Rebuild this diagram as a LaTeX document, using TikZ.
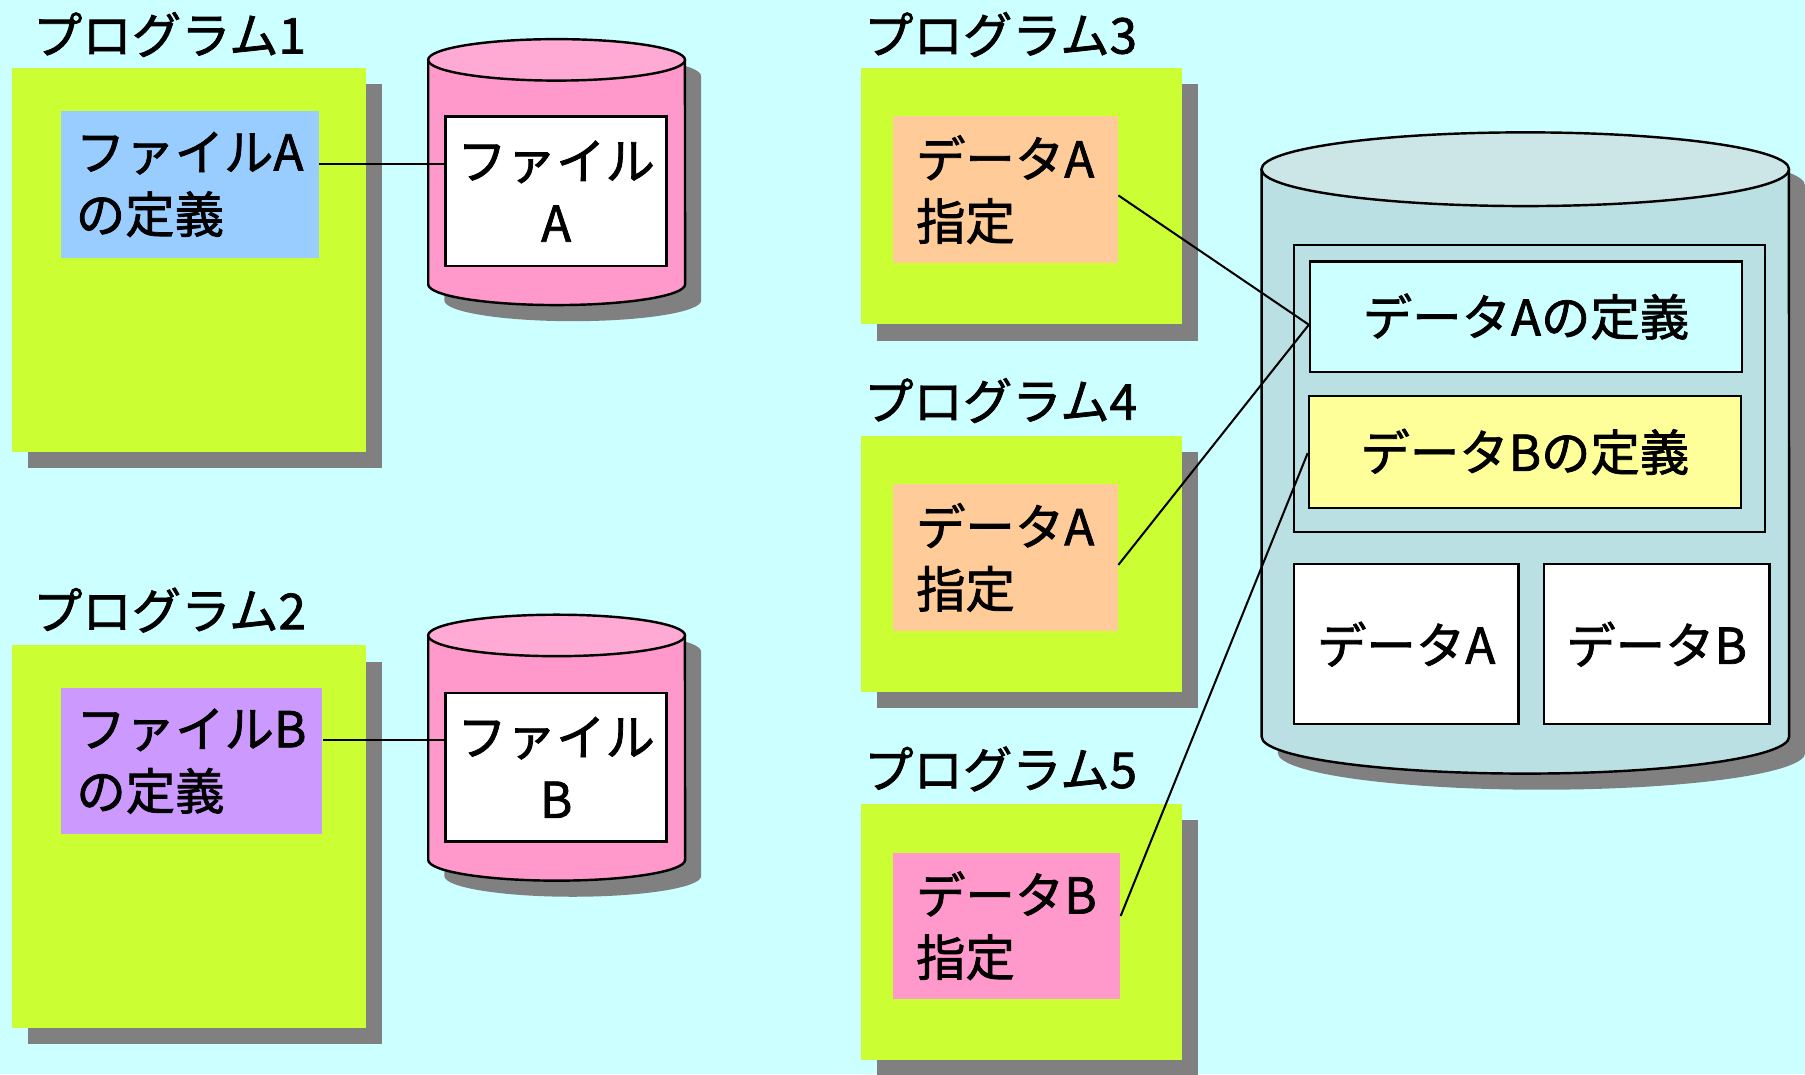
\documentclass[tikz,border=0pt]{standalone}
\usepackage{fontspec}
\setmainfont{Noto Sans CJK JP}[FakeBold=1.5]
\usetikzlibrary{calc,shadows}
\definecolor{bg}{HTML}{CCFFFF}
\definecolor{prog}{HTML}{CCFF33}
\definecolor{shadowgray}{HTML}{808080}
\definecolor{defblue}{HTML}{99CCFF}
\definecolor{defpurple}{HTML}{CC99FF}
\definecolor{spec}{HTML}{FFCC99}
\definecolor{specpink}{HTML}{FF99CC}
\definecolor{cylpink}{HTML}{FF99CC}
\definecolor{cylpinktop}{HTML}{FFAAD4}
\definecolor{dbbody}{HTML}{BBE0E3}
\definecolor{dbtop}{HTML}{CCE6E8}
\definecolor{defyellow}{HTML}{FFFF99}
\tikzset{
  txt/.style={font=\fontsize{12.2}{15.4}\selectfont},
  lbl/.style={txt, inner sep=0pt, anchor=west},
  progbox/.style={fill=prog, draw=none, anchor=north west,
    drop shadow={shadow xshift=0.14cm, shadow yshift=-0.14cm, fill=shadowgray, opacity=1}},
  tagbox/.style={txt, draw=none, anchor=north west, align=left, inner sep=0pt},
  framebox/.style={txt, draw=black, line width=0.6pt, anchor=north west, align=center, inner sep=0pt},
  conn/.style={draw=black, line width=0.5pt},
  cylline/.style={draw=black, line width=0.6pt},
}
\begin{document}
\begin{tikzpicture}[x=0.01cm, y=-0.01cm]
\path[use as bounding box, fill=bg] (0,0) rectangle (1568,933);
\clip (0,0) rectangle (1568,933);

% ---------- Program 1 ----------
\node[lbl] (lbl1) at (28,30) {プログラム1};
\node[progbox, minimum width=3.07cm, minimum height=3.34cm] (prog1) at (10,58) {};
\node[tagbox, fill=defblue, minimum width=2.24cm, minimum height=1.27cm] (defFA) at (52,96) {ファイルA\\の定義};

% cylinder A
\fill[shadowgray] (386,66) -- (386,261) arc[start angle=180, end angle=360, x radius=1.115cm, y radius=0.18cm]
  -- (609,66) arc[start angle=0, end angle=180, x radius=1.115cm, y radius=0.18cm] -- cycle;
\filldraw[fill=cylpink, cylline] (372,52) -- (372,247) arc[start angle=180, end angle=360, x radius=1.115cm, y radius=0.18cm] -- (595,52);
\filldraw[fill=cylpinktop, cylline] (483.5,52) ellipse[x radius=1.115cm, y radius=0.18cm];
\node[framebox, fill=white, minimum width=1.92cm, minimum height=1.30cm] (fileA) at (386,100) {ファイル\\A};

\coordinate (la) at ([yshift=0.175cm]defFA.east);
\draw[conn] (la) -- (la -| fileA.west);

% ---------- Program 2 ----------
\node[lbl] (lbl2) at (28,530) {プログラム2};
\node[progbox, minimum width=3.07cm, minimum height=3.32cm] (prog2) at (10,560) {};
\node[tagbox, fill=defpurple, minimum width=2.27cm, minimum height=1.27cm] (defFB) at (52,597) {ファイルB\\の定義};

% cylinder B
\fill[shadowgray] (386,566) -- (386,761) arc[start angle=180, end angle=360, x radius=1.115cm, y radius=0.18cm]
  -- (609,566) arc[start angle=0, end angle=180, x radius=1.115cm, y radius=0.18cm] -- cycle;
\filldraw[fill=cylpink, cylline] (372,552) -- (372,747) arc[start angle=180, end angle=360, x radius=1.115cm, y radius=0.18cm] -- (595,552);
\filldraw[fill=cylpinktop, cylline] (483.5,552) ellipse[x radius=1.115cm, y radius=0.18cm];
\node[framebox, fill=white, minimum width=1.92cm, minimum height=1.29cm] (fileB) at (386,601) {ファイル\\B};

\coordinate (lb) at ([yshift=0.185cm]defFB.east);
\draw[conn] (lb) -- (lb -| fileB.west);

% ---------- Programs 3-5 ----------
\node[lbl] (lbl3) at (750,30) {プログラム3};
\node[progbox, minimum width=2.79cm, minimum height=2.23cm] (prog3) at (747,58) {};
\node[tagbox, fill=spec, minimum width=1.95cm, minimum height=1.28cm] (spec3) at (775,100) {データA\\指定};

\node[lbl] (lbl4) at (750,348) {プログラム4};
\node[progbox, minimum width=2.79cm, minimum height=2.22cm] (prog4) at (747,378) {};
\node[tagbox, fill=spec, minimum width=1.95cm, minimum height=1.27cm] (spec4) at (775,420) {データA\\指定};

\node[lbl] (lbl5) at (750,668) {プログラム5};
\node[progbox, minimum width=2.79cm, minimum height=2.22cm] (prog5) at (747,698) {};
\node[tagbox, fill=specpink, minimum width=1.97cm, minimum height=1.27cm] (spec5) at (775,740) {データB\\指定};

% ---------- Database cylinder ----------
\fill[shadowgray] (1110,161) -- (1110,654) arc[start angle=180, end angle=360, x radius=2.29cm, y radius=0.32cm]
  -- (1568,161) arc[start angle=0, end angle=180, x radius=2.29cm, y radius=0.32cm] -- cycle;
\filldraw[fill=dbbody, cylline] (1096,147) -- (1096,640) arc[start angle=180, end angle=360, x radius=2.29cm, y radius=0.32cm] -- (1554,147);
\filldraw[fill=dbtop, cylline] (1325,147) ellipse[x radius=2.29cm, y radius=0.32cm];

\node[framebox, fill=dbbody, minimum width=4.09cm, minimum height=2.49cm] (frame) at (1123,212) {};
\node[framebox, fill=bg, minimum width=3.75cm, minimum height=0.96cm] (defA) at (1137,226) {データAの定義};
\node[framebox, fill=defyellow, minimum width=3.75cm, minimum height=0.97cm] (defB) at (1136,343) {データBの定義};
\node[framebox, fill=white, minimum width=1.95cm, minimum height=1.39cm] (dataA) at (1123,489) {データA};
\node[framebox, fill=white, minimum width=1.96cm, minimum height=1.39cm] (dataB) at (1340,489) {データB};

% ---------- connectors ----------
\draw[conn] ([yshift=-0.05cm]spec3.east) -- ([yshift=-0.07cm]defA.west);
\draw[conn] ([yshift=-0.065cm]spec4.east) -- ([yshift=-0.07cm]defA.west);
\draw[conn] ([yshift=0.085cm]spec5.east) -- ([yshift=-0.01cm]defB.west);
\end{tikzpicture}
\end{document}
